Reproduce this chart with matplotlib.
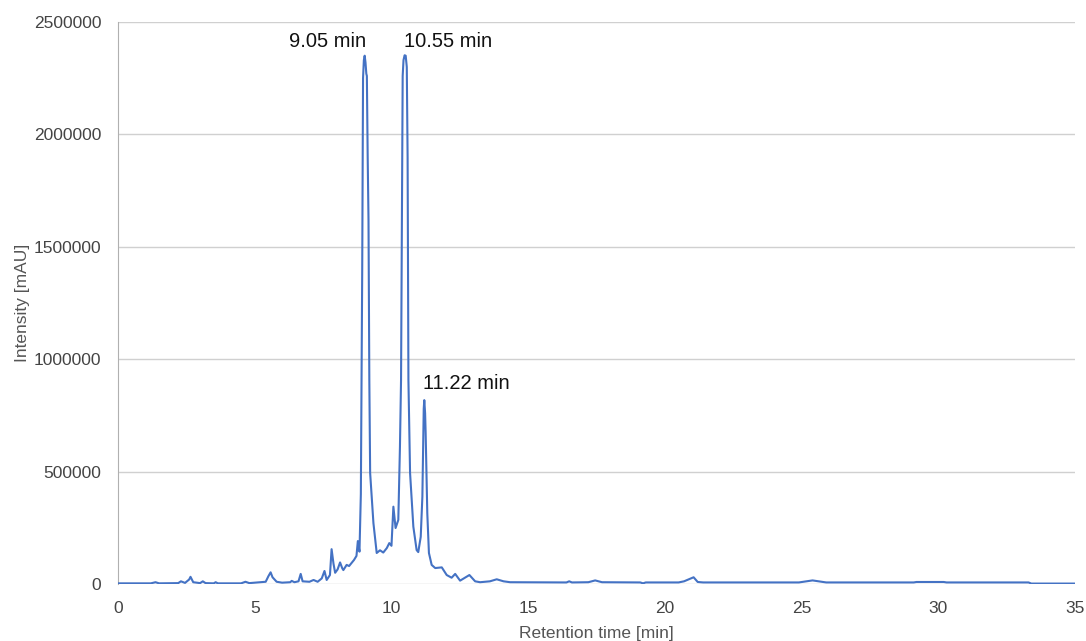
import matplotlib
matplotlib.use("Agg")
import matplotlib.pyplot as plt
import numpy as np

plt.rcParams["font.family"] = ["Liberation Sans", "DejaVu Sans"]

# Chromatogram points (min, mAU)
retention_time = [
    0.0, 1.2, 1.37, 1.5, 2.2, 2.3, 2.45, 2.6, 2.65, 2.75, 3.0, 3.1, 3.2, 3.5,
    3.57, 3.65, 4.5, 4.66, 4.8, 5.4, 5.5, 5.58, 5.65, 5.8, 6.0, 6.3, 6.35,
    6.45, 6.6, 6.68, 6.75, 7.0, 7.15, 7.3, 7.45, 7.55, 7.63, 7.75, 7.81, 7.88,
    7.94, 8.03, 8.12, 8.2, 8.24, 8.36, 8.45, 8.55, 8.63, 8.72, 8.77, 8.83,
    8.88, 8.93, 8.96, 8.99, 9.02, 9.05, 9.08, 9.1, 9.13, 9.16, 9.19, 9.22,
    9.28, 9.34, 9.46, 9.58, 9.7, 9.83, 9.92, 10.0, 10.07, 10.15, 10.25,
    10.31, 10.35, 10.38, 10.41, 10.44, 10.48, 10.52, 10.56, 10.59, 10.62,
    10.68, 10.8, 10.92, 10.98, 11.07, 11.13, 11.18, 11.2, 11.23, 11.25,
    11.31, 11.37, 11.47, 11.6, 11.84, 12.02, 12.2, 12.33, 12.51, 12.85,
    13.06, 13.24, 13.6, 13.85, 14.1, 14.34, 16.4, 16.5, 16.6, 17.2, 17.45,
    17.7, 19.1, 19.2, 19.3, 20.5, 20.7, 21.05, 21.2, 21.4, 24.9, 25.4, 25.9,
    29.1, 29.2, 30.2, 30.3, 33.3, 33.4, 35.0,
]
intensity = [
    3000, 3000, 8000, 3000, 4000, 12000, 5000, 20000, 32000, 8000, 4000,
    12000, 4000, 3000, 8000, 3000, 3000, 10000, 4000, 10000, 35000, 52000,
    30000, 10000, 6000, 8000, 14000, 8000, 12000, 45000, 12000, 10000, 18000,
    10000, 25000, 58000, 18000, 40000, 155000, 90000, 50000, 65000, 96000,
    70000, 62000, 85000, 80000, 95000, 107000, 125000, 191000, 144000,
    400000, 1400000, 2250000, 2330000, 2350000, 2320000, 2270000, 2260000,
    1900000, 1620000, 907000, 494000, 380000, 271000, 138000, 150000, 140000,
    160000, 182000, 170000, 344000, 249000, 285000, 610000, 907000, 1620000,
    2260000, 2330000, 2352000, 2350000, 2300000, 1900000, 907000, 494000,
    255000, 151000, 142000, 210000, 388000, 780000, 818000, 760000, 672000,
    315000, 138000, 85000, 71000, 74000, 40000, 28000, 45000, 15000, 40000,
    12000, 8000, 12000, 21000, 12000, 8000, 7000, 12000, 7000, 8000, 16000,
    8000, 7000, 3000, 7000, 7000, 12000, 30000, 9000, 7000, 7000, 16000,
    7000, 7000, 9000, 9000, 7000, 7000, 2000, 2000,
]

peak_labels = ["9.05 min", "10.55 min", "11.22 min"]
label_x = [9.07, 10.46, 11.16]
label_y = [2415000, 2415000, 894000]
label_ha = ["right", "left", "left"]

fig = plt.figure(figsize=(10.86, 6.41), dpi=100)
ax = fig.add_axes([0.1087, 0.0889, 0.8812, 0.8768])

ax.plot(retention_time, intensity, color="#4472C4", linewidth=1.5, zorder=3)

for text, x, y, ha in zip(peak_labels, label_x, label_y, label_ha):
    ax.text(x, y, text, ha=ha, va="center", fontsize=14.5, color="#111111")

ax.set_xlim(0, 35)
ax.set_ylim(0, 2500000)
ax.set_xticks(np.arange(0, 36, 5))
ax.set_yticks(np.arange(0, 2500001, 500000))
ax.set_yticklabels([str(v) for v in range(0, 2500001, 500000)])

ax.grid(axis="y", color="#d0d0d0", linewidth=1)
ax.set_axisbelow(True)
for side in ["top", "right", "bottom"]:
    ax.spines[side].set_visible(False)
ax.spines["left"].set_color("#b0b0b0")
ax.tick_params(length=0, labelsize=12.5, colors="#444444")
ax.tick_params(axis="y", pad=12)
ax.tick_params(axis="x", pad=12)

ax.set_xlabel("Retention time [min]", fontsize=12.5, color="#555555", labelpad=7.5)
ax.set_ylabel("Intensity [mAU]", fontsize=12.5, color="#555555", labelpad=3)

plt.savefig("out.png", dpi=100)
